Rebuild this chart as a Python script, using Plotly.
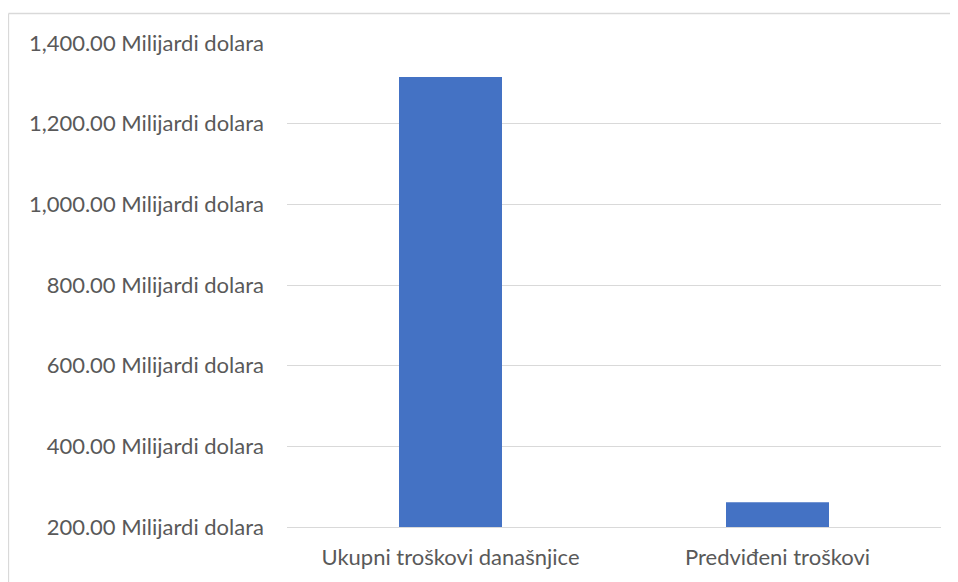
import plotly.graph_objects as go

categories = ["Ukupni troškovi današnjice", "Predviđeni troškovi"]
values = [1315.7, 261.5]
y_ticks = [200, 400, 600, 800, 1000, 1200, 1400]
y_tick_text = [f"{v:,.2f} Milijardi dolara" for v in y_ticks]

# page body has an 8px default margin, so the figure is placed at (8, 8)
W, H = 950, 574
L, R, T, B = 279, 17, 35, 55
pw, ph = W - L - R, H - T - B

fig = go.Figure(go.Bar(x=categories, y=values, marker_color="#4472C4",
                       marker_line_width=0))

font_family = "Lato, 'Open Sans', sans-serif"
fig.update_layout(
    width=W, height=H,
    margin=dict(l=L, r=R, t=T, b=B, autoexpand=False),
    paper_bgcolor="white", plot_bgcolor="white",
    bargap=0.685,
    showlegend=False,
    font=dict(family=font_family, size=22, color="#595959"),
)
fig.update_yaxes(range=[200, 1400], tickmode="array", tickvals=y_ticks,
                 ticktext=y_tick_text, showgrid=True,
                 gridcolor="#D9D9D9", gridwidth=1.3, zeroline=False,
                 showline=False, ticklabelstandoff=22)
fig.update_xaxes(showline=True, linecolor="#D9D9D9", linewidth=1.3,
                 ticks="", ticklabelstandoff=10)

# outer chart frame (top and left edges visible)
x_left = (0.5 - L) / pw
y_top = (H - B - 5.5) / ph
fig.add_shape(type="line", xref="paper", yref="paper", x0=x_left, x1=2,
              y0=y_top, y1=y_top, line=dict(color="#D9D9D9", width=1.3))
fig.add_shape(type="line", xref="paper", yref="paper", x0=x_left, x1=x_left,
              y0=-1, y1=y_top, line=dict(color="#D9D9D9", width=1.3))

fig.write_html("out.html")
